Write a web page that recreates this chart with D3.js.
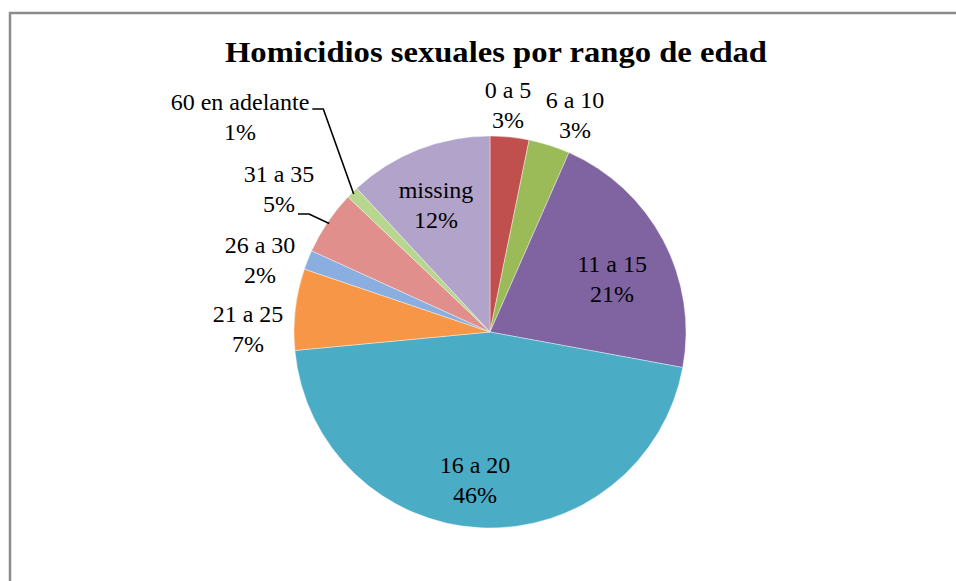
<!DOCTYPE html>
<html>
<head>
<meta charset="utf-8">
<script src="https://cdn.jsdelivr.net/npm/d3@7"></script>
<style>
  html, body { margin: 0; padding: 0; background: #fff; }
  svg { display: block; }
</style>
</head>
<body>
<script>
// slices clockwise from 12 o'clock
const categories = ['0 a 5', '6 a 10', '11 a 15', '16 a 20', '21 a 25', '26 a 30', '31 a 35', '60 en adelante', 'missing']
const shares = [3.2, 3.4, 21.3, 45.6, 6.7, 1.6, 5.3, 1.0, 11.9]
const colors = ['#c0504d', '#9bbb59', '#8064a2', '#4bacc6', '#f79646', '#8aaedf', '#e08f8c', '#b7d68e', '#b2a3cb']
const title = 'Homicidios sexuales por rango de edad'

// label centre offsets from pie centre (layout only)
const labelPos = [[18, -230], [85, -220], [122, -56], [-15, 145], [-242, -6], [-230, -75], [-211, -146], [-250, -218], [-54, -130]]
// which labels get a leader line
const leaders = { '31 a 35': true, '60 en adelante': true }

const W = 956, H = 581
const cx = 490, cy = 332, r = 196
const serif = '"Liberation Serif", "Times New Roman", Times, serif'

const svg = d3.select('body').append('svg')
  .attr('width', W)
  .attr('height', H)

// chart frame (right and bottom edges fall off the picture)
svg.append('path')
  .attr('d', `M10,${H + 2}V13H${W + 4}`)
  .attr('fill', 'none')
  .attr('stroke', '#8c8c8c')
  .attr('stroke-width', 2.5)

svg.append('text')
  .attr('x', 496)
  .attr('y', 62)
  .attr('text-anchor', 'middle')
  .style('font-family', serif)
  .attr('font-size', 29)
  .attr('font-weight', 'bold')
  .attr('textLength', 542)
  .attr('lengthAdjust', 'spacingAndGlyphs')
  .text(title)

const data = categories.map((c, i) => ({ name: c, value: shares[i], color: colors[i], pos: labelPos[i] }))

const pie = d3.pie()
  .sort(null)
  .value(d => d.value)

const arc = d3.arc()
  .innerRadius(0)
  .outerRadius(r)

const edge = d3.arc()
  .innerRadius(r - 2)
  .outerRadius(r - 2)

const g = svg.append('g')
  .attr('transform', `translate(${cx},${cy})`)

const arcs = pie(data)

g.selectAll('path.slice')
  .data(arcs)
  .join('path')
  .classed('slice', true)
  .attr('d', arc)
  .attr('fill', d => d.data.color)
  .attr('stroke', '#fff')
  .attr('stroke-width', 0.4)

const fs = 24
const labels = g.selectAll('g.label')
  .data(arcs)
  .join('g')
  .classed('label', true)
  .attr('transform', d => `translate(${d.data.pos[0]},${d.data.pos[1]})`)
  .style('font-family', serif)
  .attr('font-size', fs)
  .attr('fill', '#000')

labels.append('text')
  .attr('text-anchor', 'middle')
  .attr('y', -4)
  .text(d => d.data.name)

labels.append('text')
  .attr('text-anchor', 'middle')
  .attr('y', 26)
  .text(d => Math.round(d.data.value) + '%')

// leader lines: from end of the label's text row, short horizontal, then to the slice edge
labels.filter(d => leaders[d.data.name]).each(function (d) {
  const el = d3.select(this)
  const top = d.data.name === '60 en adelante'
  const rowText = top ? el.select('text') : el.selectAll('text').filter((_, i) => i === 1)
  const bb = rowText.node().getBBox()
  const x0 = d.data.pos[0] + bb.x + bb.width + 3
  const y0 = d.data.pos[1] + (top ? -5 : 28)
  const [ex, ey] = edge.centroid(d)
  g.append('path')
    .attr('d', `M${x0},${y0}H${x0 + 11}L${ex},${ey}`)
    .attr('fill', 'none')
    .attr('stroke', '#000')
    .attr('stroke-width', 1.6)
})
</script>
</body>
</html>
